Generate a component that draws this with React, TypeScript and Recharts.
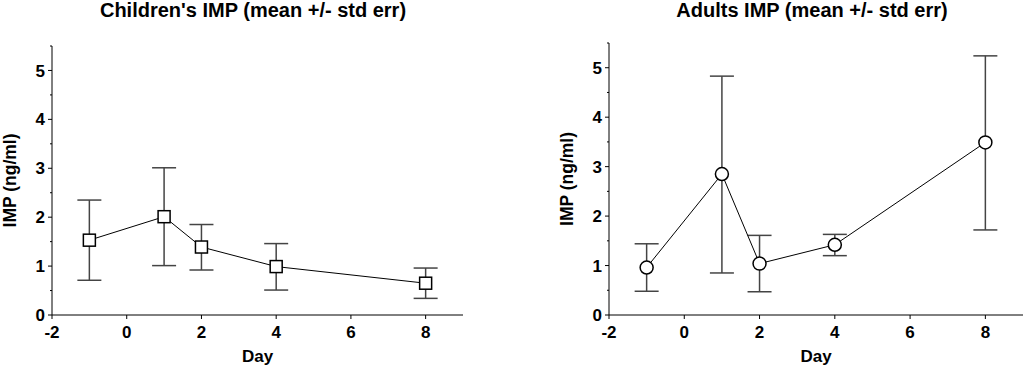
import { LineChart, Line, XAxis, YAxis, ErrorBar } from 'recharts';

const days = [-1, 1, 2, 4, 8];
const xTicks = [-2, 0, 2, 4, 6, 8];
const yTicks = [0, 0.5, 1, 1.5, 2, 2.5, 3, 3.5, 4, 4.5, 5, 5.5];

const childMean = [1.53, 2.01, 1.39, 0.99, 0.65];
const childErr = [
  [0.82, 0.82],
  [1.0, 1.0],
  [0.47, 0.46],
  [0.48, 0.47],
  [0.31, 0.31],
];

const adultMean = [0.96, 2.85, 1.04, 1.42, 3.49];
const adultErr = [
  [0.48, 0.48],
  [2.0, 1.98],
  [0.57, 0.57],
  [0.22, 0.21],
  [1.77, 1.75],
];

const font = '"Liberation Sans", Arial, sans-serif';

const YTick = (props: any) => {
  const { x, y, payload } = props;
  const v = payload.value;
  const axisX = x + 4 + 3;
  const major = Number.isInteger(v);
  return (
    <g>
      <line x1={axisX - (major ? 4 : 2)} x2={axisX} y1={y} y2={y} stroke="#000" />
      {major && (
        <text x={axisX - 7} y={y} dy="0.36em" textAnchor="end" fontFamily={font} fontWeight="bold" fontSize={17} fill="#000">
          {v}
        </text>
      )}
    </g>
  );
};

const XTick = (props: any) => {
  const { x, y, payload } = props;
  const axisY = y - 4 - 3;
  return (
    <g>
      <line x1={x} x2={x} y1={axisY} y2={axisY + 4} stroke="#000" />
      <text x={x} y={axisY + 23} textAnchor="middle" fontFamily={font} fontWeight="bold" fontSize={17} fill="#000">
        {payload.value}
      </text>
    </g>
  );
};

const SquareDot = (props: any) => {
  const { cx, cy } = props;
  if (cx == null || cy == null) return null;
  return <rect x={cx - 6} y={cy - 6} width={12} height={12} fill="#fff" stroke="#000" strokeWidth={1.5} />;
};

const CircleDot = (props: any) => {
  const { cx, cy } = props;
  if (cx == null || cy == null) return null;
  return <circle cx={cx} cy={cy} r={6.5} fill="#fff" stroke="#000" strokeWidth={1.5} />;
};

type PanelProps = {
  mean: number[];
  err: number[][];
  dot: any;
  left: number;
  width: number;
  top: number;
  right: number;
};

function Panel({ mean, err, dot, left, width, top, right }: PanelProps) {
  const data = days.map((d, i) => ({ day: d, imp: mean[i], err: err[i] }));
  return (
    <div style={{ position: 'absolute', left, top: 0 }}>
      <LineChart width={width} height={369} data={data} margin={{ top, right, left: 0, bottom: 0 }}>
        <XAxis
          dataKey="day"
          type="number"
          domain={[-2, 9]}
          ticks={xTicks}
          allowDataOverflow
          height={54}
          stroke="#000"
          tickSize={4}
          tickMargin={3}
          tickLine={false}
          tick={<XTick />}
          label={{ value: 'Day', position: 'insideBottom', offset: 7, fontFamily: font, fontWeight: 'bold', fontSize: 17, fill: '#000' }}
        />
        <YAxis
          type="number"
          domain={[0, 5.5]}
          ticks={yTicks}
          interval={0}
          allowDataOverflow
          width={52}
          stroke="#000"
          tickSize={4}
          tickMargin={3}
          tickLine={false}
          tick={<YTick />}
          label={{ value: 'IMP (ng/ml)', angle: -90, position: 'center', dx: -16, fontFamily: font, fontWeight: 'bold', fontSize: 17.5, fill: '#000' }}
        />
        <Line dataKey="imp" stroke="#000" strokeWidth={1} dot={dot} isAnimationActive={false}>
          <ErrorBar dataKey="err" direction="y" width={12} stroke="#444" strokeWidth={1.5} isAnimationActive={false} />
        </Line>
      </LineChart>
    </div>
  );
}

export default function App() {
  return (
    <div style={{ position: 'absolute', left: 0, top: 0, width: 1024, height: 369, background: '#fff', overflow: 'hidden' }}>
      <div style={{ position: 'absolute', left: 53, width: 400, top: 0, textAlign: 'center', fontFamily: font, fontWeight: 'bold', fontSize: 20, lineHeight: '20px', whiteSpace: 'nowrap' }}>
        Children's IMP (mean +/- std err)
      </div>
      <div style={{ position: 'absolute', left: 612, width: 400, top: 0, textAlign: 'center', fontFamily: font, fontWeight: 'bold', fontSize: 20, lineHeight: '20px', whiteSpace: 'nowrap' }}>
        Adults IMP (mean +/- std err)
      </div>
      <Panel mean={childMean} err={childErr} dot={<SquareDot />} left={0} width={470} top={46} right={7} />
      <Panel mean={adultMean} err={adultErr} dot={<CircleDot />} left={557} width={467} top={43} right={1} />
    </div>
  );
}
